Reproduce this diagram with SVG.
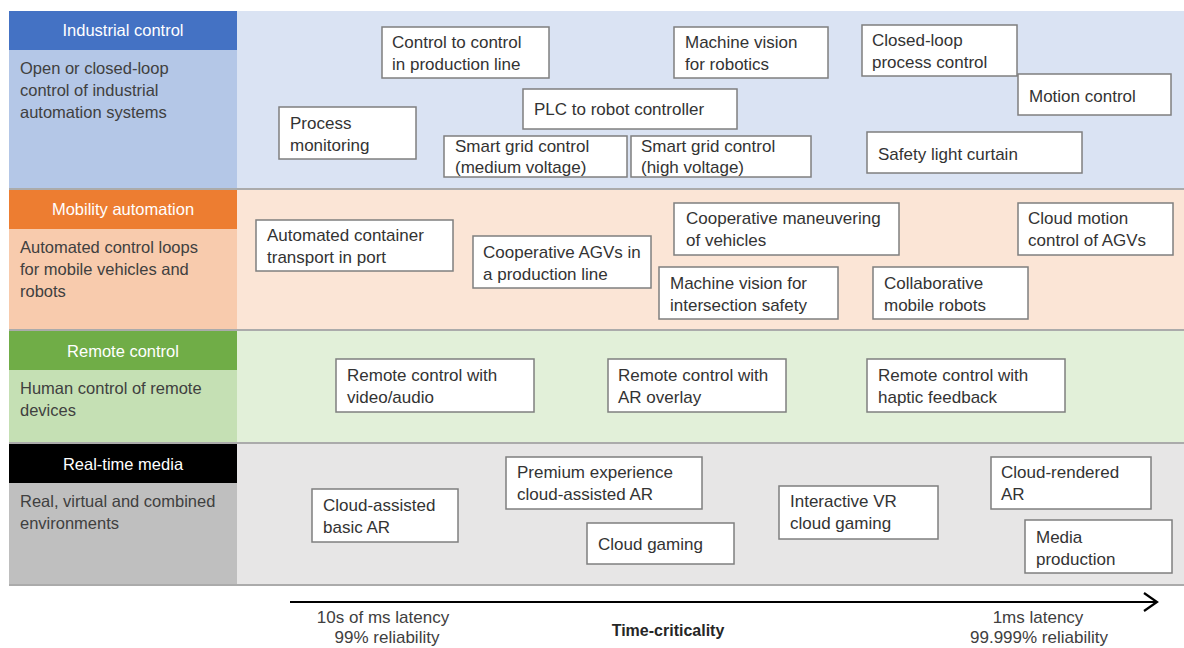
<svg xmlns="http://www.w3.org/2000/svg" width="1184" height="648" viewBox="0 0 1184 648">
<style>
text{font-family:"Liberation Sans",Arial,sans-serif;font-size:17px;fill:#333333}
.hd{fill:#ffffff;text-anchor:middle;font-size:16.5px}
.ds{fill:#404040;font-size:16.5px}
.box rect{fill:#ffffff;stroke:#7f7f7f;stroke-width:1.5}
.sep{stroke:#8f8f8f;stroke-width:1.6}
.axt{text-anchor:middle;fill:#404040}
</style>
<defs>
<marker id="arr" viewBox="0 0 16 20" refX="14" refY="10" markerWidth="16" markerHeight="20" markerUnits="userSpaceOnUse" orient="auto">
<path d="M1 1 L14 10 L1 19" fill="none" stroke="#000000" stroke-width="2.2"/>
</marker>
</defs>
<rect width="1184" height="648" fill="#ffffff"/>

<g id="band-industrial">
<rect x="237" y="11" width="947" height="177" fill="#DAE3F3"/>
<rect x="9" y="50" width="228" height="138" fill="#B4C7E7"/>
<rect x="9" y="11" width="228" height="39" fill="#4472C4"/>
<text class="hd" x="123" y="36">Industrial control</text>
<text class="ds" x="20" y="74">Open or closed-loop</text>
<text class="ds" x="20" y="96">control of industrial</text>
<text class="ds" x="20" y="118">automation systems</text>
<line class="sep" x1="9" y1="189" x2="1184" y2="189"/>
</g>
<g id="band-mobility">
<rect x="237" y="190" width="947" height="139" fill="#FBE5D6"/>
<rect x="9" y="229" width="228" height="100" fill="#F8CBAD"/>
<rect x="9" y="190" width="228" height="39" fill="#ED7D31"/>
<text class="hd" x="123" y="215">Mobility automation</text>
<text class="ds" x="20" y="253">Automated control loops</text>
<text class="ds" x="20" y="275">for mobile vehicles and</text>
<text class="ds" x="20" y="297">robots</text>
<line class="sep" x1="9" y1="330" x2="1184" y2="330"/>
</g>
<g id="band-remote">
<rect x="237" y="331" width="947" height="111" fill="#E2F0D9"/>
<rect x="9" y="370" width="228" height="72" fill="#C5E0B4"/>
<rect x="9" y="331" width="228" height="39" fill="#70AD47"/>
<text class="hd" x="123" y="357">Remote control</text>
<text class="ds" x="20" y="394">Human control of remote</text>
<text class="ds" x="20" y="416">devices</text>
<line class="sep" x1="9" y1="443" x2="1184" y2="443"/>
</g>
<g id="band-media">
<rect x="237" y="444" width="947" height="140" fill="#E7E6E6"/>
<rect x="9" y="483" width="228" height="101" fill="#BFBFBF"/>
<rect x="9" y="444" width="228" height="39" fill="#000000"/>
<text class="hd" x="123" y="470">Real-time media</text>
<text class="ds" x="20" y="507">Real, virtual and combined</text>
<text class="ds" x="20" y="529">environments</text>
<line class="sep" x1="9" y1="585" x2="1184" y2="585"/>
</g>

<g id="n-control-to-control" class="box"><rect x="382" y="27" width="167" height="51"/><text x="392" y="48">Control to control</text><text x="392" y="70">in production line</text></g>
<g id="n-machine-vision-robotics" class="box"><rect x="674" y="27" width="154" height="51"/><text x="685" y="48">Machine vision</text><text x="685" y="70">for robotics</text></g>
<g id="n-closed-loop" class="box"><rect x="862" y="25" width="155" height="51"/><text x="872" y="46">Closed-loop</text><text x="872" y="68">process control</text></g>
<g id="n-motion-control" class="box"><rect x="1018" y="74" width="153" height="41"/><text x="1029" y="102">Motion control</text></g>
<g id="n-plc" class="box"><rect x="523" y="89" width="214" height="40"/><text x="534" y="115">PLC to robot controller</text></g>
<g id="n-process-monitoring" class="box"><rect x="279" y="107" width="137" height="52"/><text x="290" y="129">Process</text><text x="290" y="151">monitoring</text></g>
<g id="n-smart-grid-medium" class="box"><rect x="444" y="136" width="183" height="41"/><text x="455" y="152">Smart grid control</text><text x="455" y="173">(medium voltage)</text></g>
<g id="n-smart-grid-high" class="box"><rect x="631" y="136" width="180" height="41"/><text x="641" y="152">Smart grid control</text><text x="641" y="173">(high voltage)</text></g>
<g id="n-safety" class="box"><rect x="867" y="132" width="215" height="41"/><text x="878" y="160">Safety light curtain</text></g>

<g id="n-container" class="box"><rect x="256" y="220" width="197" height="51"/><text x="267" y="241">Automated container</text><text x="267" y="263">transport in port</text></g>
<g id="n-coop-agvs" class="box"><rect x="473" y="236" width="178" height="52"/><text x="483" y="258">Cooperative AGVs in</text><text x="483" y="280">a production line</text></g>
<g id="n-coop-maneuvering" class="box"><rect x="674" y="203" width="225" height="52"/><text x="686" y="224">Cooperative maneuvering</text><text x="686" y="246">of vehicles</text></g>
<g id="n-cloud-motion" class="box"><rect x="1018" y="203" width="155" height="52"/><text x="1028" y="224">Cloud motion</text><text x="1028" y="246">control of AGVs</text></g>
<g id="n-intersection" class="box"><rect x="659" y="267" width="179" height="52"/><text x="670" y="289">Machine vision for</text><text x="670" y="311">intersection safety</text></g>
<g id="n-collab-robots" class="box"><rect x="873" y="267" width="155" height="52"/><text x="884" y="289">Collaborative</text><text x="884" y="311">mobile robots</text></g>

<g id="n-rc-video" class="box"><rect x="336" y="359" width="198" height="53"/><text x="347" y="381">Remote control with</text><text x="347" y="403">video/audio</text></g>
<g id="n-rc-ar" class="box"><rect x="608" y="359" width="178" height="53"/><text x="618" y="381">Remote control with</text><text x="618" y="403">AR overlay</text></g>
<g id="n-rc-haptic" class="box"><rect x="867" y="359" width="198" height="53"/><text x="878" y="381">Remote control with</text><text x="878" y="403">haptic feedback</text></g>

<g id="n-basic-ar" class="box"><rect x="312" y="489" width="146" height="53"/><text x="323" y="511">Cloud-assisted</text><text x="323" y="533">basic AR</text></g>
<g id="n-premium-ar" class="box"><rect x="506" y="457" width="196" height="52"/><text x="517" y="478">Premium experience</text><text x="517" y="500">cloud-assisted AR</text></g>
<g id="n-cloud-gaming" class="box"><rect x="587" y="523" width="147" height="41"/><text x="598" y="550">Cloud gaming</text></g>
<g id="n-vr-gaming" class="box"><rect x="779" y="486" width="159" height="53"/><text x="790" y="507">Interactive VR</text><text x="790" y="529">cloud gaming</text></g>
<g id="n-cloud-rendered" class="box"><rect x="991" y="457" width="160" height="52"/><text x="1001" y="478">Cloud-rendered</text><text x="1001" y="500">AR</text></g>
<g id="n-media-production" class="box"><rect x="1025" y="520" width="147" height="53"/><text x="1036" y="543">Media</text><text x="1036" y="565">production</text></g>

<g id="connectors">
<line x1="290" y1="602" x2="1157" y2="602" stroke="#000000" stroke-width="2.2" marker-end="url(#arr)"/>
</g>
<g id="axis-labels">
<text class="axt" x="383" y="623">10s of ms latency</text>
<text class="axt" x="387" y="643">99% reliability</text>
<text class="axt" x="668" y="636" style="font-weight:bold;fill:#262626;font-size:16px">Time-criticality</text>
<text class="axt" x="1038" y="623">1ms latency</text>
<text class="axt" x="1039" y="643">99.999% reliability</text>
</g>
</svg>
